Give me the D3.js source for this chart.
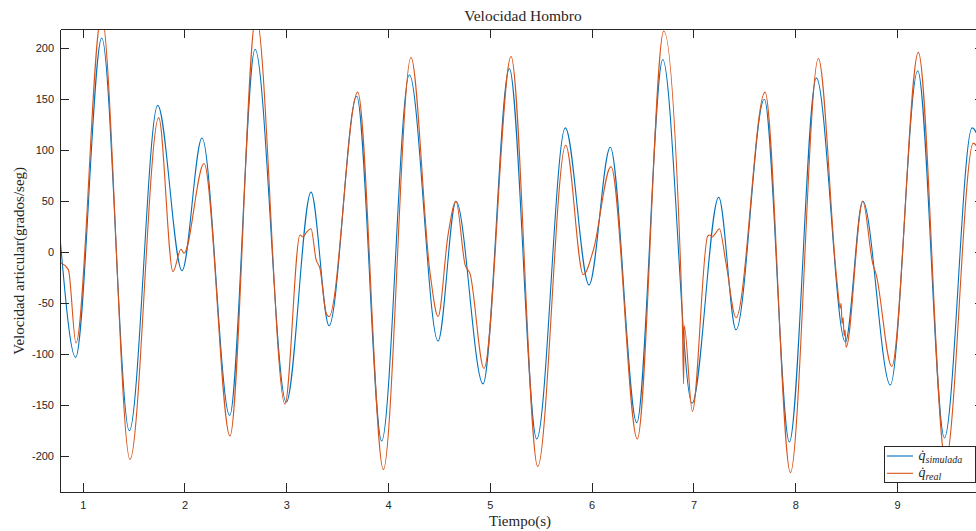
<!DOCTYPE html>
<html>
<head>
<meta charset="utf-8">
<script src="https://cdn.jsdelivr.net/npm/d3@7"></script>
<style>
	body { margin: 0; background: #fff; }
	#chart { width: 976px; height: 531px; overflow: hidden; }
	.tickText { font-family: 'Liberation Sans', Arial, sans-serif; font-size: 11px; fill: #262626; }
	.serif { font-family: 'Liberation Serif', 'DejaVu Serif', serif; fill: #262626; }
</style>
</head>
<body>
<div id="chart"><svg width="976" height="531"></svg></div>
<script>
// tiempo (s) y velocidad (grados/seg)
const timeSim = [0.777, 0.931, 1.187, 1.458, 1.737, 1.976, 2.172, 2.444, 2.693, 3.000, 3.243, 3.420,
	3.692, 3.937, 4.209, 4.491, 4.667, 4.933, 5.191, 5.460, 5.741, 5.974, 6.183, 6.443, 6.698, 6.986,
	7.248, 7.418, 7.696, 7.942, 8.207, 8.492, 8.663, 8.934, 9.203, 9.465, 9.737, 9.854];
const velSim = [15, -103, 210, -175, 144, -18, 112, -160, 199, -147, 59, -72,
	153, -185, 174, -87, 50, -129, 180, -183, 122, -32, 103, -167, 189, -148,
	54, -76, 150, -186, 171, -88, 50, -130, 178, -182, 122, 95];

const timeReal = [0.777, 0.859, 0.934, 1.185, 1.465, 1.747, 1.887, 1.966, 1.995, 2.192, 2.447, 2.703,
	2.987, 3.135, 3.164, 3.194, 3.243, 3.292, 3.331, 3.390, 3.420, 3.702, 3.953, 4.225, 4.412, 4.491,
	4.589, 4.667, 4.756, 4.805, 4.942, 5.208, 5.470, 5.745, 5.918, 6.016, 6.190, 6.448, 6.708, 6.888,
	6.903, 6.909, 6.989, 7.140, 7.163, 7.183, 7.212, 7.254, 7.320, 7.418, 7.703, 7.952, 8.227, 8.401,
	8.421, 8.440, 8.450, 8.460, 8.470, 8.480, 8.489, 8.499, 8.663, 8.761, 8.793, 8.948, 9.209, 9.476,
	9.749, 9.854];
const velReal = [-10, -17, -89, 232, -203, 132, -19, 3, -1, 87, -180, 232,
	-149, 17, 15, 19, 23, -7, -16, -59, -63, 157, -213, 191, -20, -63,
	17, 50, -12, -21, -114, 192, -210, 105, -22, 2, 84, -183, 217, -55,
	-129, -72, -156, 16, 17, 15, 18, 23, -11, -64, 157, -216, 190, -20,
	-40, -55, -50, -70, -64, -82, -76, -93, 50, -11, -21, -112, 196, -205,
	107, 85];

const xTicks = [1, 2, 3, 4, 5, 6, 7, 8, 9];
const yTicks = [-200, -150, -100, -50, 0, 50, 100, 150, 200];

const seriesNames = ['simulada', 'real'];
const seriesColors = ['#0072BD', '#D95319'];

function drawChart() {
	/**********************
    ***** BASIC SETUP *****
    **********************/

	const svg = d3.select('#chart').select('svg');

	const left = 60;
	const right = 984; // the axes box runs past the cropped edge
	const top = 29.3;
	const bottom = 492.3;
	const TICK = 9;

	/***********************
    ***** X & Y SCALES *****
    ***********************/

	const xScale = d3.scaleLinear().domain([ 0.777, 9.854 ]).range([ left, right ]);
	const yScale = d3.scaleLinear().domain([ -235.3, 218.6 ]).range([ bottom, top ]);

	/****************
    ***** LINES *****
    *****************/

	svg
		.append('clipPath')
		.attr('id', 'plotClip')
		.append('rect')
		.attr('x', left)
		.attr('y', top)
		.attr('width', right - left)
		.attr('height', bottom - top);

	const line = d3
		.line()
		.x((d) => xScale(d.t))
		.y((d) => yScale(d.v))
		.curve(d3.curveMonotoneX);

	const sim = timeSim.map((t, i) => ({ t: t, v: velSim[i] }));
	const real = timeReal.map((t, i) => ({ t: t, v: velReal[i] }));

	const plot = svg.append('g').attr('clip-path', 'url(#plotClip)');

	[ sim, real ].forEach(function(d, i) {
		plot
			.append('path')
			.datum(d)
			.attr('d', line)
			.attr('fill', 'none')
			.attr('stroke', seriesColors[i])
			.attr('stroke-width', 1.1);
	});

	/*************************
    ***** AXES (BOX ON) *****
    *************************/

	const noLabel = () => '';

	const yAxis = svg
		.append('g')
		.attr('transform', `translate(${left}, 0)`)
		.call(d3.axisLeft(yScale).tickValues(yTicks).tickSizeInner(-TICK).tickSizeOuter(0).tickPadding(6).tickFormat((d) => String(d)));

	const xAxis = svg
		.append('g')
		.attr('transform', `translate(0, ${bottom})`)
		.call(d3.axisBottom(xScale).tickValues(xTicks).tickSizeInner(-TICK).tickSizeOuter(0).tickPadding(9).tickFormat((d) => String(d)));

	const topAxis = svg
		.append('g')
		.attr('transform', `translate(0, ${top})`)
		.call(d3.axisTop(xScale).tickValues(xTicks).tickSizeInner(-TICK).tickSizeOuter(0).tickFormat(noLabel));

	const rightAxis = svg
		.append('g')
		.attr('transform', `translate(${right}, 0)`)
		.call(d3.axisRight(yScale).tickValues(yTicks).tickSizeInner(-TICK).tickSizeOuter(0).tickFormat(noLabel));

	[ yAxis, xAxis, topAxis, rightAxis ].forEach(function(g) {
		g.selectAll('.domain').attr('stroke', '#262626').attr('stroke-width', 1).attr('shape-rendering', 'crispEdges');
		g.selectAll('.tick line').attr('stroke', '#262626').attr('stroke-width', 1).attr('shape-rendering', 'crispEdges');
		g.selectAll('.tick text').attr('class', 'tickText').attr('fill', null);
	});

	/*************************
    ***** TITLE, LABELS *****
    *************************/

	svg
		.append('text')
		.attr('class', 'serif')
		.attr('x', 523)
		.attr('y', 21)
		.attr('text-anchor', 'middle')
		.attr('font-size', 15.5)
		.text('Velocidad Hombro');

	svg
		.append('text')
		.attr('class', 'serif')
		.attr('x', 520)
		.attr('y', 526)
		.attr('text-anchor', 'middle')
		.attr('font-size', 15)
		.text('Tiempo(s)');

	svg
		.append('text')
		.attr('class', 'serif')
		.attr('transform', `translate(24, ${(top + bottom) / 2}) rotate(-90)`)
		.attr('text-anchor', 'middle')
		.attr('font-size', 15)
		.text('Velocidad articular(grados/seg)');

	/*****************
    ***** LEGEND *****
    *****************/

	const legend = svg.append('g').attr('transform', 'translate(884.5, 446)');

	legend
		.append('rect')
		.attr('width', 91)
		.attr('height', 36.5)
		.attr('fill', '#fff')
		.attr('stroke', '#262626')
		.attr('stroke-width', 1)
		.attr('shape-rendering', 'crispEdges');

	seriesNames.forEach(function(name, i) {
		const y = 10 + i * 17.3;
		legend
			.append('line')
			.attr('x1', 2.5)
			.attr('x2', 28.5)
			.attr('y1', y)
			.attr('y2', y)
			.attr('stroke', seriesColors[i])
			.attr('stroke-width', 1.1);

		const label = legend
			.append('text')
			.attr('class', 'serif')
			.attr('x', 34)
			.attr('y', y + 3.5)
			.attr('font-style', 'italic');

		label.append('tspan').attr('font-size', 14).text('q\u0307');
		label.append('tspan').attr('font-size', 10).attr('dy', 3).text(name);
	});
}

drawChart();
</script>
</body>
</html>
